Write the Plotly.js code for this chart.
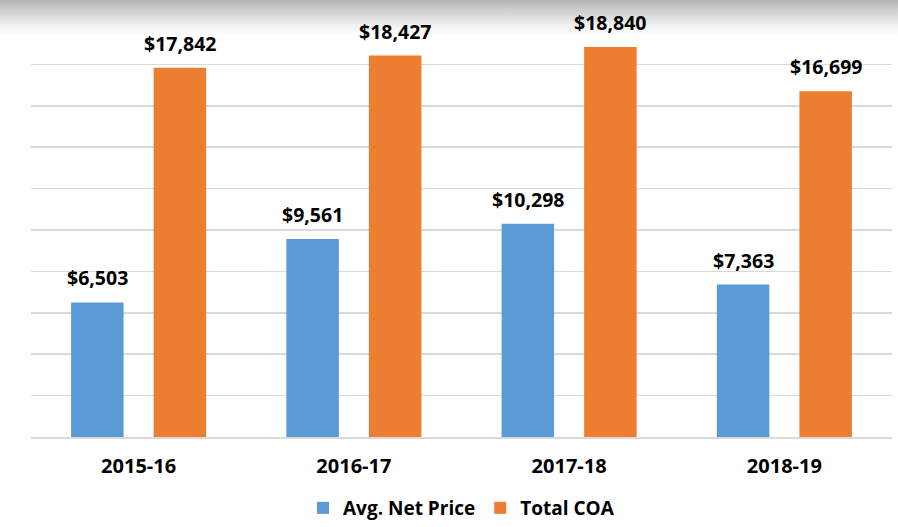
<!DOCTYPE html>
<html>
<head>
<meta charset="utf-8">
<script src="https://cdn.plot.ly/plotly-3.0.1.min.js"></script>
<style>
  html, body { margin: 0; padding: 0; background: #ffffff; }
  #wrap { position: relative; width: 898px; height: 527px;
    background: linear-gradient(to bottom, #b4b4b4 0px, #d2d2d2 12px, #f2f2f2 26px, #ffffff 36px, #ffffff 100%); }
  #chart { position: absolute; left: 0; top: 0; width: 898px; height: 527px; }
</style>
</head>
<body>
<div id="wrap"><div id="chart"></div></div>
<script>
const categories = ["2015-16", "2016-17", "2017-18", "2018-19"];
const avgNetPrice = [6503, 9561, 10298, 7363];
const totalCOA = [17842, 18427, 18840, 16699];
const seriesNames = ["Avg. Net Price", "Total COA"];

const FONT = "Open Sans, Noto Sans, sans-serif";
const fmt = v => "<b>$" + v.toLocaleString("en-US") + "</b>";

const traces = [
  { type: "bar", name: seriesNames[0], x: categories, y: avgNetPrice,
    marker: { color: "#5b9bd5" }, hoverinfo: "skip" },
  { type: "bar", name: seriesNames[1], x: categories, y: totalCOA,
    marker: { color: "#ed7d31" }, hoverinfo: "skip" }
];

// bar centre offset in pixels from category centre (layout only)
const OFFSET = 41.25;
const annotations = [];
[avgNetPrice, totalCOA].forEach((series, si) => {
  series.forEach((v, i) => {
    annotations.push({
      x: categories[i], y: v, xref: "x", yref: "y",
      xshift: si === 0 ? -OFFSET : OFFSET, yshift: 9,
      text: fmt(v), showarrow: false, xanchor: "center", yanchor: "bottom",
      font: { family: FONT, size: 19.5, color: "#000000" }
    });
  });
});

const layout = {
  width: 898, height: 527,
  margin: { l: 31, r: 6, t: 23, b: 90, autoexpand: false },
  paper_bgcolor: "rgba(0,0,0,0)",
  plot_bgcolor: "rgba(0,0,0,0)",
  barmode: "group",
  bargap: 0.233,
  bargroupgap: 0.364,
  showlegend: true,
  annotations: annotations,
  legend: {
    orientation: "h", x: 0.5, xanchor: "center", y: -0.2174, yanchor: "bottom",
    font: { family: FONT, size: 19, color: "#000000", weight: "bold" },
    itemwidth: 30, traceorder: "normal", borderwidth: 0
  },
  xaxis: {
    type: "category", automargin: false,
    tickfont: { family: FONT, size: 20, color: "#000000", weight: "bold" },
    ticklabelstandoff: 10,
    showline: true, linecolor: "#d9d9d9", linewidth: 1.5,
    ticks: "", ticklen: 0, showgrid: false, fixedrange: true
  },
  yaxis: {
    range: [0, 20000], dtick: 2000, tick0: 0, automargin: false,
    showticklabels: false, ticks: "",
    showgrid: true, gridcolor: "#d9d9d9", gridwidth: 1.5,
    zeroline: false, showline: false, fixedrange: true
  }
};

Plotly.newPlot("chart", traces, layout, { staticPlot: true, displayModeBar: false });
</script>
</body>
</html>
